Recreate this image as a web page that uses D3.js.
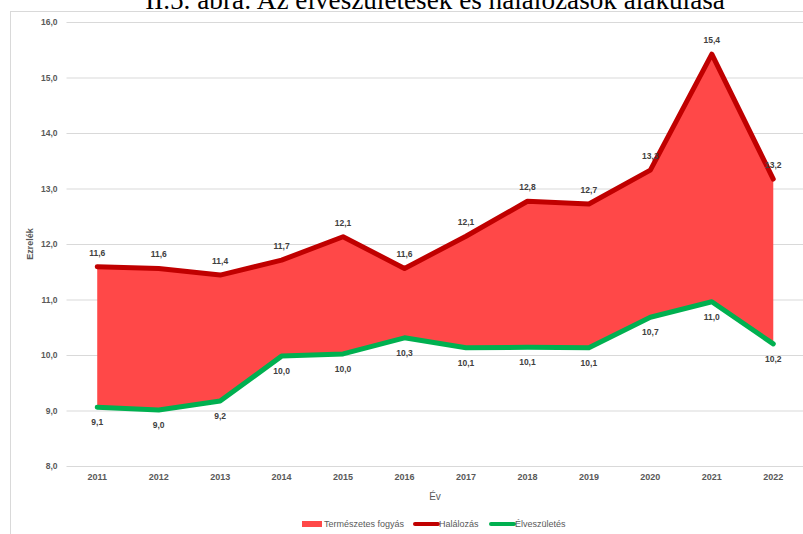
<!DOCTYPE html>
<html>
<head>
<meta charset="utf-8">
<script src="https://cdn.jsdelivr.net/npm/d3@7"></script>
<style>
  html, body { margin: 0; padding: 0; background: #fff; }
  svg { display: block; }
</style>
</head>
<body>
<svg id="chart" width="803" height="534"></svg>
<script>
const years = ["2011","2012","2013","2014","2015","2016","2017","2018","2019","2020","2021","2022"];
const halalozas = [11.59, 11.56, 11.44, 11.71, 12.13, 11.56, 12.14, 12.77, 12.72, 13.33, 15.42, 13.17];
const elveszuletes = [9.06, 9.01, 9.17, 9.98, 10.02, 10.31, 10.13, 10.14, 10.13, 10.68, 10.96, 10.2];
const yTicks = [8, 9, 10, 11, 12, 13, 14, 15, 16];
const titleText = "II.5. ábra: Az élveszületések és halálozások alakulása";
const legendNames = ["Természetes fogyás", "Halálozás", "Élveszületés"];

const colArea = "#FF4848", colRed = "#C00000", colGreen = "#00B050";
const txt = "#595959", lbl = "#404040", grid = "#D9D9D9";

const svg = d3.select("#chart");
const fmt = v => v.toFixed(1).replace(".", ",");

const x = d3.scaleBand().domain(years).range([66.5, 804]);
const cx = yr => x(yr) + x.bandwidth() / 2;
const y = d3.scaleLinear().domain([8, 16]).range([466, 22]);

// frame
svg.append("rect").attr("x", 10.5).attr("y", 11.5).attr("width", 820).attr("height", 540)
  .attr("fill", "none").attr("stroke", grid).attr("stroke-width", 1);

// title
const title = svg.append("text").attr("x", 435).attr("y", 9).attr("text-anchor", "middle")
  .attr("font-family", "'Liberation Serif','Times New Roman',serif").attr("font-size", 24)
  .attr("fill", "#000").text(titleText);
const tw = title.node().getComputedTextLength();
title.attr("font-size", 24 * 580 / tw);

// gridlines + y axis
const yAxis = d3.axisLeft(y).tickValues(yTicks).tickSize(-(804 - 66.5)).tickFormat(fmt).tickPadding(9);
const gy = svg.append("g").attr("transform", "translate(66.5,0)").call(yAxis);
gy.select(".domain").remove();
gy.selectAll(".tick line").attr("stroke", grid).attr("stroke-width", 1);
gy.selectAll(".tick text").attr("font-family", "'Liberation Sans',Arial,sans-serif")
  .attr("font-size", 8.5).attr("font-weight", "bold").attr("fill", txt);

// x axis labels
const xAxis = d3.axisBottom(x).tickSize(0).tickPadding(8);
const gx = svg.append("g").attr("transform", "translate(0,466)").call(xAxis);
gx.select(".domain").remove();
gx.selectAll(".tick text").attr("font-family", "'Liberation Sans',Arial,sans-serif")
  .attr("font-size", 9).attr("font-weight", "bold").attr("fill", txt);

// axis titles
svg.append("text").attr("transform", "translate(33,244) rotate(-90)").attr("text-anchor", "middle")
  .attr("font-family", "'Liberation Sans',Arial,sans-serif").attr("font-size", 9).attr("font-weight", "bold")
  .attr("fill", txt).text("Ezrelék");
svg.append("text").attr("x", 435).attr("y", 500).attr("text-anchor", "middle")
  .attr("font-family", "'Liberation Sans',Arial,sans-serif").attr("font-size", 10)
  .attr("fill", txt).text("Év");

// data
const data = years.map((yr, i) => ({ yr, h: halalozas[i], e: elveszuletes[i] }));

svg.append("path").datum(data)
  .attr("d", d3.area().x(d => cx(d.yr)).y0(d => y(d.e)).y1(d => y(d.h)))
  .attr("fill", colArea);

svg.append("path").datum(data)
  .attr("d", d3.line().x(d => cx(d.yr)).y(d => y(d.h)))
  .attr("fill", "none").attr("stroke", colRed).attr("stroke-width", 5)
  .attr("stroke-linejoin", "round").attr("stroke-linecap", "round");
svg.append("path").datum(data)
  .attr("d", d3.line().x(d => cx(d.yr)).y(d => y(d.e)))
  .attr("fill", "none").attr("stroke", colGreen).attr("stroke-width", 5)
  .attr("stroke-linejoin", "round").attr("stroke-linecap", "round");

// data labels
const lf = g => g.attr("font-family", "'Liberation Sans',Arial,sans-serif").attr("font-size", 8.5)
  .attr("font-weight", "bold").attr("fill", lbl).attr("text-anchor", "middle");
svg.append("g").selectAll("text").data(data).join("text")
  .attr("x", d => cx(d.yr)).attr("y", d => y(d.h) - 11).text(d => fmt(d.h)).call(lf);
svg.append("g").selectAll("text").data(data).join("text")
  .attr("x", d => cx(d.yr)).attr("y", d => y(d.e) + 18).text(d => fmt(d.e)).call(lf);

// legend
const lg = svg.append("g");
const lfont = t => t.attr("font-family", "'Liberation Sans Narrow','Liberation Sans',Arial,sans-serif")
  .attr("font-size", 9).attr("fill", txt);
lg.append("rect").attr("x", 302).attr("y", 521).attr("width", 20).attr("height", 6).attr("fill", colArea);
lg.append("text").attr("x", 324).attr("y", 527).text(legendNames[0]).call(lfont);
lg.append("line").attr("x1", 415).attr("x2", 438).attr("y1", 524).attr("y2", 524)
  .attr("stroke", colRed).attr("stroke-width", 4).attr("stroke-linecap", "round");
lg.append("text").attr("x", 439).attr("y", 527).text(legendNames[1]).call(lfont);
lg.append("line").attr("x1", 491).attr("x2", 514).attr("y1", 524).attr("y2", 524)
  .attr("stroke", colGreen).attr("stroke-width", 4).attr("stroke-linecap", "round");
lg.append("text").attr("x", 515).attr("y", 527).text(legendNames[2]).call(lfont);
</script>
</body>
</html>
